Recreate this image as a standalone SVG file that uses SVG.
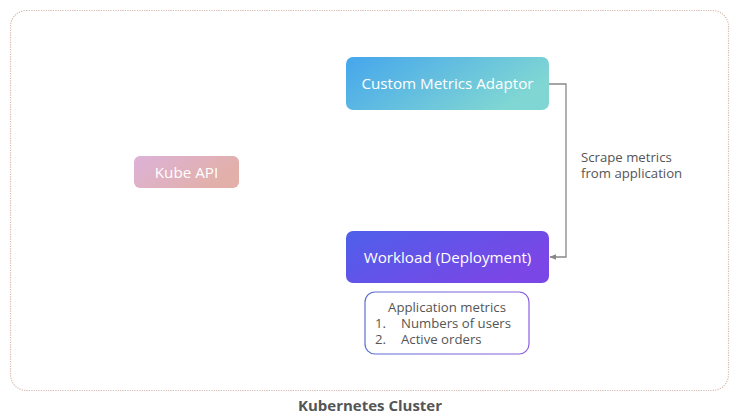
<svg xmlns="http://www.w3.org/2000/svg" width="739" height="418" viewBox="0 0 739 418">
<defs>
<linearGradient id="gCma" x1="0" y1="0" x2="1" y2="0.4">
<stop offset="0" stop-color="#45a6ec"/>
<stop offset="1" stop-color="#80d6d3"/>
</linearGradient>
<linearGradient id="gWl" x1="0" y1="0" x2="1" y2="0.5">
<stop offset="0" stop-color="#4e5fea"/>
<stop offset="1" stop-color="#7b46e6"/>
</linearGradient>
<linearGradient id="gKa" x1="0" y1="0" x2="1" y2="0.4">
<stop offset="0" stop-color="#dcb2d8"/>
<stop offset="1" stop-color="#e2b0a8"/>
</linearGradient>
<linearGradient id="gAm" x1="0" y1="0" x2="1" y2="0">
<stop offset="0" stop-color="#5b6fd0"/>
<stop offset="1" stop-color="#8a5ee0"/>
</linearGradient>
<marker id="arr" viewBox="0 0 10 10" refX="9" refY="5" markerWidth="7" markerHeight="7" orient="auto-start-reverse" markerUnits="userSpaceOnUse">
<path d="M0,1 L10,5 L0,9 z" fill="#888"/>
</marker>
<style>
text{font-family:"Open Sans","Noto Sans","DejaVu Sans",sans-serif}
.w{fill:#fff;font-size:15.2px}
.d{fill:#555;font-size:13.2px}
</style>
</defs>
<rect width="739" height="418" fill="#fff"/>
<g id="cluster">
<rect x="10.5" y="10.5" width="718" height="380" rx="16" fill="none" stroke="#d7b9ae" stroke-width="1.2" stroke-dasharray="1.2 1.2"/>
<text x="370" y="411" text-anchor="middle" font-weight="bold" font-size="15" fill="#555">Kubernetes Cluster</text>
</g>
<g id="connectors">
<polyline points="549,84 566,84 566,257 550,257" fill="none" stroke="#888" stroke-width="1.3" marker-end="url(#arr)"/>
<text class="d" x="581" y="162">Scrape metrics</text>
<text class="d" x="581" y="178">from application</text>
</g>
<g id="kube-api">
<rect x="134" y="156" width="105" height="32" rx="6" fill="url(#gKa)"/>
<text class="w" x="186.5" y="177.5" text-anchor="middle" font-size="16">Kube API</text>
</g>
<g id="custom-metrics-adaptor">
<rect x="346" y="57" width="203" height="53" rx="7" fill="url(#gCma)"/>
<text class="w" x="447.5" y="89" text-anchor="middle">Custom Metrics Adaptor</text>
</g>
<g id="workload">
<rect x="346" y="231" width="203" height="52" rx="7" fill="url(#gWl)"/>
<text class="w" x="447.5" y="262.5" text-anchor="middle">Workload (Deployment)</text>
</g>
<g id="app-metrics">
<rect x="365" y="292" width="164" height="62" rx="10" fill="#fff" stroke="url(#gAm)" stroke-width="1.2"/>
<text class="d" x="447" y="312" text-anchor="middle">Application metrics</text>
<text class="d" x="375" y="328">1.</text>
<text class="d" x="401" y="328">Numbers of users</text>
<text class="d" x="375" y="344">2.</text>
<text class="d" x="401" y="344">Active orders</text>
</g>
</svg>
